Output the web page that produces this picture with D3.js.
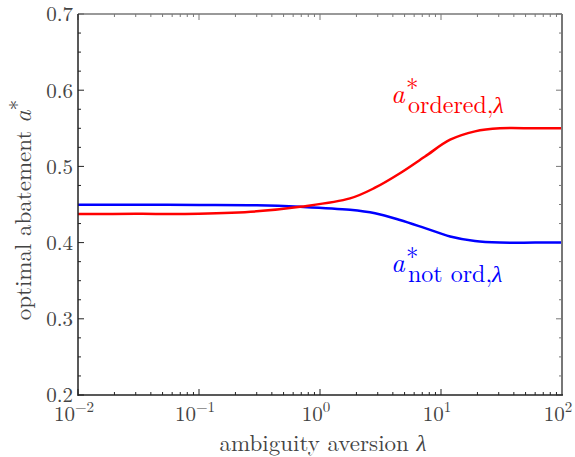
<!DOCTYPE html>
<html><head><meta charset="utf-8">
<script src="https://cdn.jsdelivr.net/npm/d3@7"></script>
<style>body{margin:0;background:#fff}svg{display:block}text{font-family:"Latin Modern Roman","Liberation Serif",serif}</style>
</head><body>
<svg id="c" width="575" height="457"></svg>
<script>
const lambdas = [0.01, 0.03, 0.1, 0.3, 0.684, 1.77, 2.85, 4.58, 7.38, 11.9, 19.1, 30.7, 60, 100];
const ordered = [0.4375, 0.4377, 0.438, 0.441, 0.447, 0.458, 0.472, 0.491, 0.513, 0.535, 0.546, 0.550, 0.550, 0.550];
const notOrd  = [0.4497, 0.4497, 0.4495, 0.449, 0.447, 0.443, 0.4385, 0.4297, 0.419, 0.408, 0.402, 0.400, 0.400, 0.400];
const yTicks = [0.2, 0.3, 0.4, 0.5, 0.6, 0.7];
const xTicks = [0.01, 0.1, 1, 10, 100];
const xTickExp = ["\u22122", "\u22121", "0", "1", "2"];

const svg = d3.select("#c");
const L = 78, R = 562, T = 14, B = 395;
const x = d3.scaleLog().domain([0.01, 100]).range([L, R]);
const y = d3.scaleLinear().domain([0.2, 0.7]).range([B, T]);

const xMinor = [];
for (let e = -2; e < 2; e++) for (let k = 2; k <= 9; k++) xMinor.push(k * Math.pow(10, e));
const yMinor = d3.range(0, 21).map(i => 0.2 + i * 0.025).filter(v => Math.abs(v * 10 - Math.round(v * 10)) > 1e-6);

function tickGroup(side, color) {
  const g = svg.append("g").attr("stroke", color).attr("stroke-width", 1);
  if (side === "bottom" || side === "top") {
    const y0 = side === "bottom" ? B : T, dir = side === "bottom" ? -1 : 1;
    xTicks.forEach(v => g.append("line").attr("x1", x(v)).attr("x2", x(v)).attr("y1", y0).attr("y2", y0 + dir * 6));
    xMinor.forEach(v => g.append("line").attr("x1", x(v)).attr("x2", x(v)).attr("y1", y0).attr("y2", y0 + dir * 3));
  } else {
    const x0 = side === "left" ? L : R, dir = side === "left" ? 1 : -1;
    yTicks.forEach(v => g.append("line").attr("y1", y(v)).attr("y2", y(v)).attr("x1", x0).attr("x2", x0 + dir * 6));
    yMinor.forEach(v => g.append("line").attr("y1", y(v)).attr("y2", y(v)).attr("x1", x0).attr("x2", x0 + dir * 3));
  }
}
tickGroup("bottom", "#222"); tickGroup("left", "#222");
tickGroup("top", "#777"); tickGroup("right", "#777");

const line = d3.line().x(d => x(d[0])).y(d => y(d[1])).curve(d3.curveCatmullRom.alpha(0.5));
svg.append("path").datum(lambdas.map((l, i) => [l, notOrd[i]]))
  .attr("d", line).attr("fill", "none").attr("stroke", "#0000ff").attr("stroke-width", 2.5);
svg.append("path").datum(lambdas.map((l, i) => [l, ordered[i]]))
  .attr("d", line).attr("fill", "none").attr("stroke", "#ff0000").attr("stroke-width", 2.5);

svg.append("line").attr("x1", L).attr("x2", R).attr("y1", T).attr("y2", T).attr("stroke", "#777").attr("stroke-width", 1.5);
svg.append("line").attr("x1", R).attr("x2", R).attr("y1", T).attr("y2", B).attr("stroke", "#777").attr("stroke-width", 2);
svg.append("line").attr("x1", L).attr("x2", L).attr("y1", T).attr("y2", B + 1).attr("stroke", "#222").attr("stroke-width", 1.5);
svg.append("line").attr("x1", L).attr("x2", R + 1).attr("y1", B).attr("y2", B).attr("stroke", "#222").attr("stroke-width", 1.5);

svg.append("g").selectAll("text").data(yTicks).join("text")
  .attr("x", L - 5).attr("y", d => y(d)).attr("dy", "0.35em").attr("text-anchor", "end")
  .attr("font-size", 21).attr("fill", "#444").text(d => d.toFixed(1));
const xl = svg.append("g").selectAll("text").data(xTicks).join("text")
  .attr("x", (d, i) => x(d) - 4).attr("y", 421).attr("text-anchor", "middle")
  .attr("font-size", 21).attr("fill", "#444");
xl.append("tspan").text("10");
xl.append("tspan").attr("dy", -9).attr("font-size", 15).text((d, i) => xTickExp[i]);

svg.append("text").attr("x", 323).attr("y", 451).attr("text-anchor", "middle")
  .attr("font-size", 23).attr("fill", "#444")
  .html("ambiguity aversion <tspan font-style='italic'>\u03bb</tspan>");
const yt = svg.append("text").attr("transform", "translate(31,210) rotate(-90)").attr("text-anchor", "middle")
  .attr("font-size", 23).attr("fill", "#444");
yt.append("tspan").text("optimal abatement ");
yt.append("tspan").attr("font-style", "italic").attr("font-size", 25).text("a");
yt.append("tspan").attr("dy", -6).attr("font-size", 21).text("*");

function curveLabel(x0, yBase, sub, color) {
  const t = svg.append("text").attr("fill", color);
  t.append("tspan").attr("x", x0).attr("y", yBase).attr("font-style", "italic").attr("font-size", 27).text("a");
  t.append("tspan").attr("x", x0 + 15).attr("y", yBase - 6).attr("font-size", 25).text("*");
  t.append("tspan").attr("x", x0 + 17).attr("y", yBase + 9.5).attr("font-size", 24).text(sub);
  t.append("tspan").attr("font-style", "italic").attr("font-size", 24).text("\u03bb");
}
curveLabel(391, 103, "ordered,", "#ff0000");
curveLabel(391, 272, "not ord,", "#0000ff");
</script>
</body></html>
